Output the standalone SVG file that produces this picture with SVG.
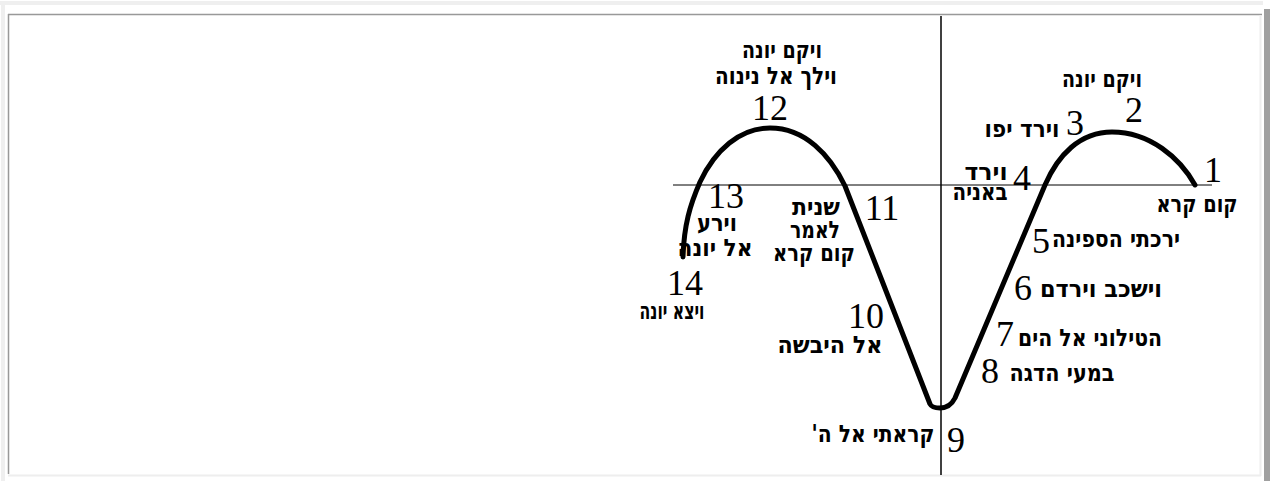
<svg xmlns="http://www.w3.org/2000/svg" width="1270" height="481" viewBox="0 0 1270 481">
<style>
.heb{font-family:"DejaVu Sans Condensed","DejaVu Sans","Liberation Sans",sans-serif;font-weight:bold;font-size:24px;fill:#000;text-anchor:middle;direction:rtl}
.num{font-family:"Liberation Serif","Times New Roman",serif;font-size:36px;fill:#000;text-anchor:middle}
.axis{stroke:#000;fill:none}
.curve{stroke:#000;stroke-width:5;fill:none;stroke-linejoin:round;stroke-linecap:round}
</style>
<rect x="0" y="0" width="1270" height="481" fill="#fff"/>
<g id="frame">
<rect x="0" y="1" width="1263" height="4" fill="#efefef"/>
<rect x="1" y="1" width="4" height="480" fill="#efefef"/>
<line x1="8" y1="14.5" x2="1262" y2="14.5" stroke="#999" stroke-width="1.5"/>
<line x1="8.5" y1="14" x2="8.5" y2="474" stroke="#999" stroke-width="1.5"/>
<line x1="8" y1="475.5" x2="1261" y2="475.5" stroke="#eee" stroke-width="2"/>
<line x1="1260.5" y1="15" x2="1260.5" y2="476" stroke="#eee" stroke-width="2"/>
<rect x="1264" y="9" width="6" height="472" fill="#a0a0a0"/>
</g>
<g id="connectors">
<line class="axis" x1="941" y1="16" x2="941" y2="475" stroke-width="1.5"/>
<line class="axis" x1="673" y1="185" x2="1212" y2="185" stroke-width="1"/>
<path class="curve" d="M1195 185 C1180 158 1150 132 1112 132 C1080 132 1058 155 1045 185 L955 398 Q950 408 940 408 Q932 408 930 404 C915 365 870 250 845 186 C830 155 805 128 770 128 C740 128 715 150 700 182 C690 205 684 225 683 257"/>
</g>
<g id="n1"><text class="num" x="1213" y="182">1</text><text class="heb" x="1197" y="212" textLength="81" lengthAdjust="spacingAndGlyphs">קום קרא</text></g>
<g id="n2"><text class="num" x="1134" y="122">2</text><text class="heb" x="1102" y="87" textLength="80" lengthAdjust="spacingAndGlyphs">ויקם יונה</text></g>
<g id="n3"><text class="num" x="1075" y="135">3</text><text class="heb" x="1022" y="137" textLength="75" lengthAdjust="spacingAndGlyphs">וירד יפו</text></g>
<g id="n4"><text class="num" x="1022" y="190">4</text><text class="heb" x="986" y="180" textLength="43" lengthAdjust="spacingAndGlyphs">וירד</text><text class="heb" x="980" y="200" textLength="55" lengthAdjust="spacingAndGlyphs">באניה</text></g>
<g id="n5"><text class="num" x="1041" y="253">5</text><text class="heb" x="1116" y="247" textLength="128" lengthAdjust="spacingAndGlyphs">ירכתי הספינה</text></g>
<g id="n6"><text class="num" x="1023" y="300">6</text><text class="heb" x="1101" y="297" textLength="122" lengthAdjust="spacingAndGlyphs">וישכב וירדם</text></g>
<g id="n7"><text class="num" x="1005" y="346">7</text><text class="heb" x="1090" y="346" textLength="144" lengthAdjust="spacingAndGlyphs">הטילוני אל הים</text></g>
<g id="n8"><text class="num" x="990" y="383">8</text><text class="heb" x="1062" y="381" textLength="105" lengthAdjust="spacingAndGlyphs">במעי הדגה</text></g>
<g id="n9"><text class="num" x="956" y="452">9</text><text class="heb" x="873" y="442" textLength="123" lengthAdjust="spacingAndGlyphs">קראתי אל ה'</text></g>
<g id="n10"><text class="num" x="866" y="328">10</text><text class="heb" x="830" y="353" textLength="105" lengthAdjust="spacingAndGlyphs">אל היבשה</text></g>
<g id="n11"><text class="num" x="882" y="220">11</text><text class="heb" x="816" y="215" textLength="48" lengthAdjust="spacingAndGlyphs">שנית</text><text class="heb" x="815" y="238" textLength="50" lengthAdjust="spacingAndGlyphs">לאמר</text><text class="heb" x="814" y="261" textLength="82" lengthAdjust="spacingAndGlyphs">קום קרא</text></g>
<g id="n12"><text class="num" x="770" y="120">12</text><text class="heb" x="782" y="58" textLength="80" lengthAdjust="spacingAndGlyphs">ויקם יונה</text><text class="heb" x="776" y="84" textLength="122" lengthAdjust="spacingAndGlyphs">וילך אל נינוה</text></g>
<g id="n13"><text class="num" x="726" y="208">13</text><text class="heb" x="717" y="231" textLength="40" lengthAdjust="spacingAndGlyphs">וירע</text><text class="heb" x="715" y="256" textLength="75" lengthAdjust="spacingAndGlyphs">אל יונה</text></g>
<g id="n14"><text class="num" x="685" y="295">14</text><text class="heb" x="672" y="319" textLength="65" lengthAdjust="spacingAndGlyphs">ויצא יונה</text></g>
</svg>
